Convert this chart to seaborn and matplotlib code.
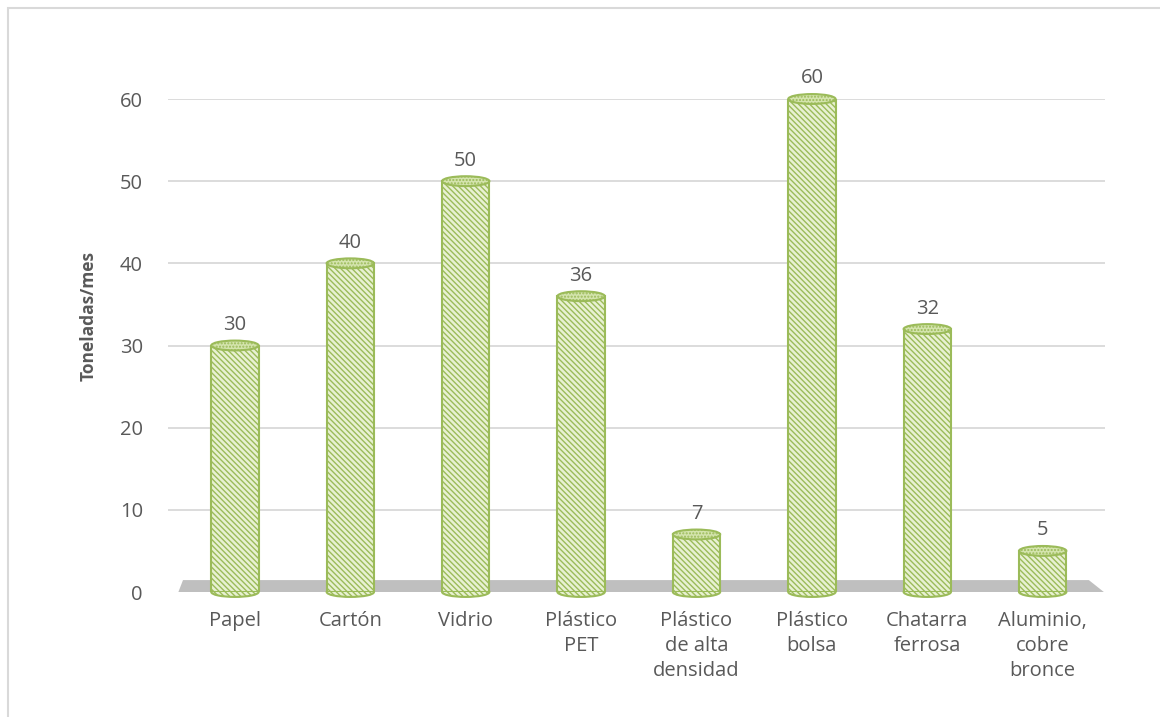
import matplotlib
matplotlib.use("Agg")
import matplotlib.pyplot as plt
import seaborn as sns
import pandas as pd
from matplotlib.patches import Ellipse, Polygon, Rectangle

categorias = ["Papel", "Cartón", "Vidrio", "Plástico\nPET", "Plástico\nde alta\ndensidad",
              "Plástico\nbolsa", "Chatarra\nferrosa", "Aluminio,\ncobre\nbronce"]
valores = [30, 40, 50, 36, 7, 60, 32, 5]
yticks = [0, 10, 20, 30, 40, 50, 60]

sns.set_theme(style="white")
plt.rcParams['font.family'] = ['Open Sans', 'DejaVu Sans']
plt.rcParams['hatch.color'] = '#8cae45'
plt.rcParams['hatch.linewidth'] = 1.0

txt = '#595959'
fill = '#e8f1d2'
edge = '#9bbb59'
fig = plt.figure(figsize=(11.6, 7.17), dpi=100)
ax = fig.add_axes([168/1160, 1-592/717, (1105-168)/1160, (592-99)/717])

df = pd.DataFrame({"cat": categorias, "val": valores})
sns.barplot(data=df, x="cat", y="val", ax=ax, color=fill, width=0.41,
            edgecolor=edge, linewidth=1.5, zorder=3)
for p in ax.patches:
    p.set_hatch('\\\\\\\\\\\\')
    p.set_facecolor(fill)

ax.set_xlim(-0.58, 7.54)
ax.set_ylim(0, 60)
ax.set_yticks(yticks)
for y in yticks[1:]:
    ax.axhline(y, color='#d9d9d9', lw=1.3, zorder=0)

# floor
floor = Polygon([(-0.49, 0), (7.53, 0), (7.40, 1.45), (-0.45, 1.45)], closed=True,
                facecolor='#bfbfbf', edgecolor='none', zorder=1)
ax.add_patch(floor)

eh = 1.2
for i, v in enumerate(valores):
    ax.add_patch(Ellipse((i, 0), 0.41, eh, facecolor=fill, edgecolor=edge,
                         lw=1.5, hatch='\\\\\\\\\\\\', zorder=2, clip_on=False))
    ax.add_patch(Ellipse((i, v), 0.41, eh, facecolor='#d4e4ad', edgecolor=edge,
                         lw=1.5, hatch='.....', zorder=4, clip_on=False))
    ax.text(i, v + 2.5, f"{v}", ha='center', va='center', fontsize=14.5, color=txt)

for s in ax.spines.values():
    s.set_visible(False)
ax.tick_params(axis='y', length=0, pad=18, labelsize=14.5, labelcolor=txt)
ax.tick_params(axis='x', length=0, pad=14, labelsize=14.5, labelcolor=txt)
for lab in ax.get_xticklabels():
    lab.set_linespacing(1.32)
ax.set_xlabel("")
ax.set_ylabel("Toneladas/mes", fontsize=12.5, fontweight='bold', color=txt)
ax.yaxis.set_label_coords(-0.075, 0.56)

fig.patches.append(Rectangle((8/1160, -0.05), 1.1, 1-8/717+0.05, transform=fig.transFigure,
                             fill=False, edgecolor='#d9d9d9', lw=1.5))

fig.savefig("out.png", dpi=100)
